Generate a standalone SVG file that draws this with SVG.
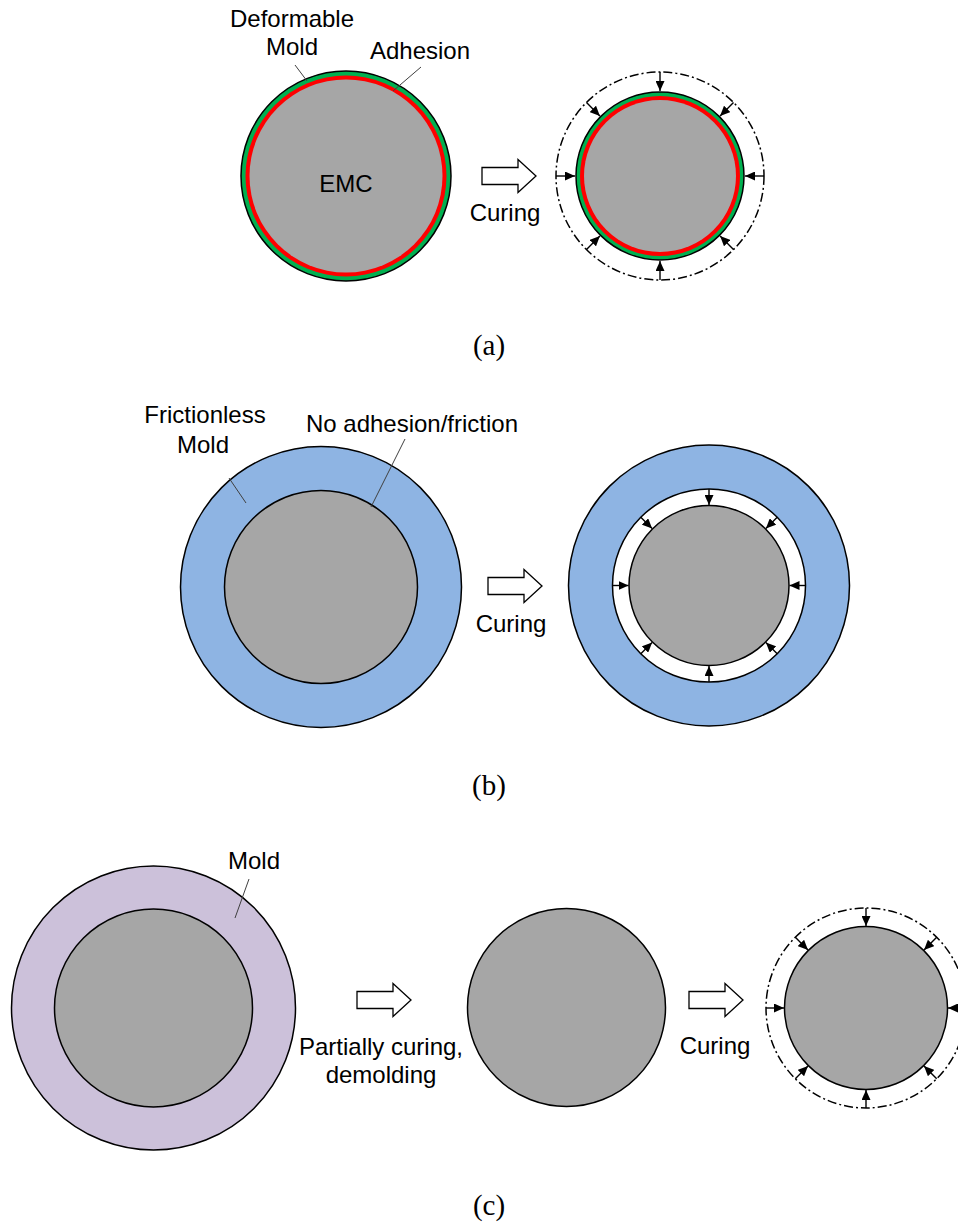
<svg xmlns="http://www.w3.org/2000/svg" width="958" height="1226" viewBox="0 0 958 1226">
<style>
.t{font-family:"Liberation Sans",Arial,sans-serif;font-size:24px;fill:#000;text-anchor:middle}
.cap{font-family:"Liberation Serif","Times New Roman",serif;font-size:29px;fill:#000;text-anchor:middle}
.ol{stroke:#000;stroke-width:1.5}
.gray{fill:#A6A6A6;stroke:#000;stroke-width:1.5}
.lead{stroke:#404040;stroke-width:1;fill:none}
.dd{fill:none;stroke:#000;stroke-width:1.5;stroke-dasharray:9 3 2 3}
.ar{stroke:#000;stroke-width:1.4;fill:none;marker-end:url(#ah)}
.hol{fill:#fff;stroke:#000;stroke-width:1.3}
</style>
<defs>
<marker id="ah" markerUnits="userSpaceOnUse" markerWidth="10" markerHeight="9" refX="10" refY="4.5" orient="auto">
<path d="M0,0 L10,4.5 L0,9 Z" fill="#000"/>
</marker>
<path id="harrow" d="M0,-8.5 L36,-8.5 L36,-16.5 L54,0 L36,16.5 L36,8.5 L0,8.5 Z"/>
</defs>
<rect width="958" height="1226" fill="#fff"/>

<!-- (a) -->
<g id="a-left">
<circle cx="346" cy="176" r="105" fill="#00B050" class="ol"/>
<circle cx="346" cy="176" r="100.5" fill="#FF0000"/>
<circle cx="346" cy="176" r="96.5" fill="#A6A6A6"/>
<text class="t" x="346" y="192">EMC</text>
</g>
<g id="a-labels">
<text class="t" x="292" y="27">Deformable</text>
<text class="t" x="292" y="55">Mold</text>
<text class="t" x="420" y="59">Adhesion</text>
<line class="lead" x1="295" y1="65" x2="307" y2="81"/>
<line class="lead" x1="421" y1="67" x2="393" y2="91"/>
</g>
<g id="a-arrow">
<use href="#harrow" class="hol" transform="translate(482,176)"/>
<text class="t" x="505" y="221">Curing</text>
</g>
<g id="a-right">
<circle cx="660" cy="176" r="104" class="dd"/>
<circle cx="660" cy="176" r="84" fill="#00B050" class="ol"/>
<circle cx="660" cy="176" r="80" fill="#FF0000"/>
<circle cx="660" cy="176" r="76" fill="#A6A6A6"/>
</g>
<text class="cap" x="489" y="355">(a)</text>

<!-- (b) -->
<g id="b-left">
<circle cx="321" cy="587" r="140.5" fill="#8EB4E3" class="ol"/>
<circle cx="321" cy="587" r="96.5" class="gray"/>
</g>
<g id="b-labels">
<text class="t" x="205" y="423">Frictionless</text>
<text class="t" x="203" y="453">Mold</text>
<text class="t" x="412" y="432">No adhesion/friction</text>
<line class="lead" x1="229" y1="478" x2="246" y2="503"/>
<line class="lead" x1="405" y1="439" x2="371" y2="507"/>
</g>
<g id="b-arrow">
<use href="#harrow" class="hol" transform="translate(488,586)"/>
<text class="t" x="511" y="632">Curing</text>
</g>
<g id="b-right">
<circle cx="709" cy="585.5" r="140.5" fill="#8EB4E3" class="ol"/>
<circle cx="709" cy="585.5" r="96.5" fill="#fff" class="ol"/>
<circle cx="709" cy="585.5" r="80" class="gray"/>
</g>
<text class="cap" x="489" y="795">(b)</text>

<!-- (c) -->
<g id="c-left">
<circle cx="153.5" cy="1008" r="142" fill="#CCC1DA" class="ol"/>
<circle cx="153.5" cy="1008" r="99" class="gray"/>
<text class="t" x="254" y="869">Mold</text>
<line class="lead" x1="249" y1="879" x2="235" y2="918"/>
</g>
<g id="c-arrow1">
<use href="#harrow" class="hol" transform="translate(357,1000)"/>
<text class="t" x="381" y="1055">Partially curing,</text>
<text class="t" x="381" y="1083">demolding</text>
</g>
<g id="c-middle">
<circle cx="566.5" cy="1007.5" r="99" class="gray"/>
</g>
<g id="c-arrow2">
<use href="#harrow" class="hol" transform="translate(689,1000)"/>
<text class="t" x="715" y="1054">Curing</text>
</g>
<g id="c-right">
<circle cx="866" cy="1008" r="100" class="dd"/>
<circle cx="866" cy="1008" r="81.5" class="gray"/>
</g>
<text class="cap" x="489" y="1215">(c)</text>

<g id="connectors">
<!-- a right -->
<line class="ar" x1="660" y1="72" x2="660" y2="91"/>
<line class="ar" x1="660" y1="280" x2="660" y2="261"/>
<line class="ar" x1="764" y1="176" x2="745" y2="176"/>
<line class="ar" x1="556" y1="176" x2="575" y2="176"/>
<line class="ar" x1="733.5" y1="102.5" x2="720.1" y2="115.9"/>
<line class="ar" x1="586.5" y1="102.5" x2="599.9" y2="115.9"/>
<line class="ar" x1="733.5" y1="249.5" x2="720.1" y2="236.1"/>
<line class="ar" x1="586.5" y1="249.5" x2="599.9" y2="236.1"/>
<!-- b right -->
<line class="ar" x1="709" y1="489" x2="709" y2="505"/>
<line class="ar" x1="709" y1="682" x2="709" y2="666"/>
<line class="ar" x1="805.5" y1="585.5" x2="789.5" y2="585.5"/>
<line class="ar" x1="612.5" y1="585.5" x2="628.5" y2="585.5"/>
<line class="ar" x1="777.2" y1="517.3" x2="765.9" y2="528.6"/>
<line class="ar" x1="640.8" y1="517.3" x2="652.1" y2="528.6"/>
<line class="ar" x1="777.2" y1="653.7" x2="765.9" y2="642.4"/>
<line class="ar" x1="640.8" y1="653.7" x2="652.1" y2="642.4"/>
<!-- c right -->
<line class="ar" x1="866" y1="908" x2="866" y2="926"/>
<line class="ar" x1="866" y1="1108" x2="866" y2="1090"/>
<line class="ar" x1="966" y1="1008" x2="948" y2="1008"/>
<line class="ar" x1="766" y1="1008" x2="784" y2="1008"/>
<line class="ar" x1="936.7" y1="937.3" x2="924" y2="950"/>
<line class="ar" x1="795.3" y1="937.3" x2="808" y2="950"/>
<line class="ar" x1="936.7" y1="1078.7" x2="924" y2="1066"/>
<line class="ar" x1="795.3" y1="1078.7" x2="808" y2="1066"/>
</g>
</svg>
